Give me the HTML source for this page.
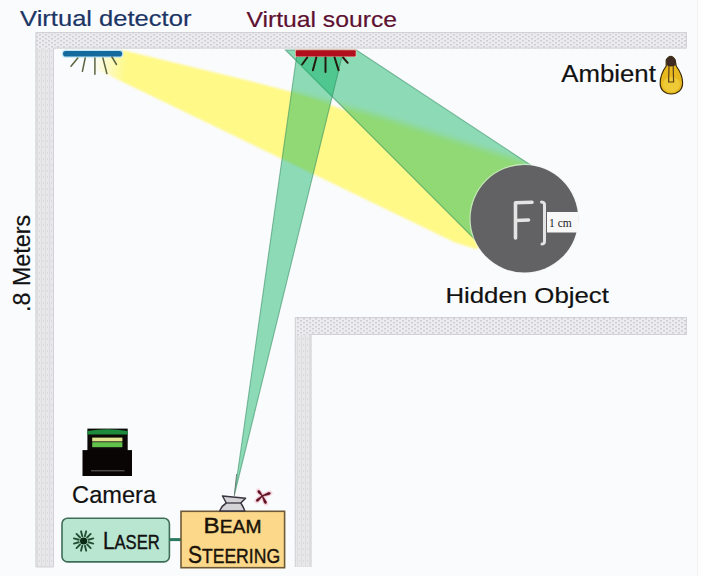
<!DOCTYPE html>
<html><head><meta charset="utf-8">
<style>
html,body{margin:0;padding:0;background:#fafbfd;}
body{width:702px;height:576px;overflow:hidden;}
svg{display:block;}
text{font-family:"Liberation Sans",sans-serif;}
</style></head>
<body>
<svg width="702" height="576" viewBox="0 0 702 576">
<defs>
  <pattern id="wall" width="6" height="4" patternUnits="userSpaceOnUse">
    <rect width="6" height="4" fill="#ececee"/>
    <rect x="0" y="0" width="2" height="1.5" fill="#cfcfd3"/>
    <rect x="3" y="2" width="2" height="1.5" fill="#cfcfd3"/>
  </pattern>
  <pattern id="vwall" width="4" height="6" patternUnits="userSpaceOnUse">
    <rect width="4" height="6" fill="#e8e8ea"/>
    <rect x="1" y="0" width="1" height="6" fill="#dcdcdf"/>
    <rect x="3" y="2" width="1" height="2" fill="#d9d9dc"/>
  </pattern>
  <linearGradient id="yfade" gradientUnits="userSpaceOnUse" x1="92" y1="62" x2="126" y2="66">
    <stop offset="0" stop-color="#fff988" stop-opacity="0"/>
    <stop offset="1" stop-color="#fff988" stop-opacity="1"/>
  </linearGradient>
  <filter id="soft3" x="-10%" y="-30%" width="120%" height="160%"><feGaussianBlur stdDeviation="3"/></filter>
  <filter id="soft" x="-5%" y="-5%" width="110%" height="110%">
    <feGaussianBlur stdDeviation="1.2"/>
  </filter>
  <clipPath id="wideclip"><polygon points="285.5,50 356,49.7 551,178.5 524.4,218.8 489.4,253.9"/><polygon points="234.5,494.5 297.5,50 343.6,50"/></clipPath>
</defs>
<rect width="702" height="576" fill="#fafbfd"/>
<rect x="698" y="0" width="4" height="576" fill="#fdfdfe"/>
<line x1="697.5" y1="0" x2="697.5" y2="576" stroke="#f0f2f4" stroke-width="1"/>

<!-- walls -->
<rect x="35.5" y="32" width="651.5" height="16.5" fill="url(#wall)"/>
<rect x="35.5" y="48.5" width="18.5" height="518.5" fill="url(#vwall)"/>
<rect x="35.5" y="32" width="18.5" height="16.5" fill="url(#wall)"/>
<path d="M36,567 L36,32.5 L686.5,32.5 L686.5,48 L53.5,48 L53.5,567 Z" fill="none" stroke="#d2d2d6" stroke-width="1"/>
<rect x="295" y="317" width="392" height="18" fill="url(#wall)"/>
<rect x="294.8" y="335" width="16.6" height="232" fill="url(#vwall)"/>
<path d="M295.3,567 L295.3,317.5 L686.5,317.5 L686.5,334.5 L311,334.5 L311,567" fill="none" stroke="#d2d2d6" stroke-width="1"/>

<!-- yellow beam -->
<polygon filter="url(#soft)" points="123,50.3 250,81 290,91.5 528,172 524.4,218.8 476,249 455,242.5 71,57" fill="url(#yfade)"/>
<g clip-path="url(#wideclip)"><polygon filter="url(#soft3)" points="275,87.5 380,116 528,163 526,190 275,99" fill="#fff988"/></g>

<!-- green wide beam -->
<polygon points="285.5,50 356,49.7 551,178.5 524.4,218.8 489.4,253.9" fill="rgb(0,174,91)" fill-opacity="0.434" stroke="#2f8a5e" stroke-opacity="0.55" stroke-width="1.1"/>
<!-- narrow beam -->
<polygon points="234.5,494.5 297.5,50 343.6,50" fill="rgb(0,174,91)" fill-opacity="0.434" stroke="#2f8a5e" stroke-opacity="0.55" stroke-width="1.1"/>

<line x1="236.6" y1="474" x2="234.3" y2="496" stroke="#5a6a64" stroke-width="1" opacity="0.8"/>

<!-- hidden object -->
<circle cx="524.4" cy="218.8" r="55" fill="#f2f6ee" fill-opacity="0.55"/>
<circle cx="524.4" cy="218.8" r="53.8" fill="#626264"/>
<g stroke="#e4e4e4" stroke-width="3.6" fill="none" stroke-linecap="round" stroke-linejoin="round">
  <path d="M515.5,238 L515.5,202.8 L532,202.3"/>
  <path d="M516,220.5 L528.5,220"/>
</g>
<path d="M541.5,202 Q545,202 544.5,206 L544.5,240 Q545,244 542,244" stroke="#e4e4e4" stroke-width="3" fill="none" stroke-linecap="round"/>
<rect x="547" y="212" width="31.5" height="20.5" fill="#f8f8f8"/>
<text x="549" y="227" font-size="11.5" fill="#222" style="font-family:'Liberation Serif',serif">1 cm</text>

<!-- detector -->
<rect x="61.8" y="49.8" width="61.6" height="8" rx="3.8" fill="#c4e6f4"/>
<rect x="63" y="51" width="59.2" height="5.6" rx="2.8" fill="#146a9c"/>
<g stroke="#5a6440" stroke-width="1.5" stroke-linecap="round">
  <line x1="77.8" y1="58" x2="71" y2="66.2"/>
  <line x1="85.2" y1="58" x2="82.4" y2="71.3"/>
  <line x1="94.9" y1="58" x2="94.9" y2="74.2"/>
  <line x1="102.9" y1="58" x2="106.9" y2="73.6"/>
  <line x1="112" y1="57" x2="116.5" y2="64.5"/>
</g>

<!-- source -->
<rect x="295" y="49" width="61.5" height="8" fill="#f6c3b4" fill-opacity="0.8"/>
<rect x="295.8" y="50.3" width="59.9" height="6.2" rx="1" fill="#b20f1e"/>
<g stroke="#241a0c" stroke-width="2" stroke-linecap="round">
  <line x1="307.2" y1="57.5" x2="302.1" y2="64.5"/>
  <line x1="316.3" y1="57.5" x2="312.9" y2="70.2"/>
  <line x1="325.5" y1="57.5" x2="325.5" y2="71.9"/>
  <line x1="334.6" y1="57.5" x2="338.6" y2="70.2"/>
  <line x1="343.1" y1="57.5" x2="347.7" y2="62.8"/>
</g>

<!-- labels -->
<text transform="translate(20.1,26.3) scale(1.167,1)" font-size="21.9" fill="#1b3565" stroke="#1b3565" stroke-width="0.2">Virtual detector</text>
<text transform="translate(246.4,27.0) scale(1.104,1)" font-size="22.4" fill="#5e1030" stroke="#5e1030" stroke-width="0.2">Virtual source</text>
<text transform="translate(561.3,81.8) scale(1.084,1)" font-size="23.8" fill="#111" stroke="#111" stroke-width="0.2">Ambient</text>
<text transform="translate(445.4,302.8) scale(1.132,1)" font-size="22.8" fill="#111" stroke="#111" stroke-width="0.2">Hidden Object</text>
<text transform="translate(72.1,502.8) scale(0.992,1)" font-size="23.8" fill="#111" stroke="#111" stroke-width="0.2">Camera</text>
<text transform="translate(30,312) rotate(-90)" font-size="23.3" fill="#111" stroke="#111" stroke-width="0.2">.8 Meters</text>

<!-- bulb -->
<g>
  <path d="M666.2,60 Q670.7,52.5 675.2,60 L676.2,66 C679.5,70.5 682.6,76 682.6,83 C682.6,90 677.5,94 671.3,94 C665,94 660,90 660.2,83 C660.2,76 663,70.5 666.2,66 Z" fill="#e8b91f" stroke="#3a2a08" stroke-width="1.2"/>
  <ellipse cx="671.3" cy="84.5" rx="8.5" ry="7.5" fill="#f2d040" opacity="0.75"/>
  <path d="M666.2,60 Q670.7,52.5 675.2,60 L675.9,65 Q670.7,68 666.5,65 Z" fill="#3e2c22"/>
  <path d="M669,66 L668.6,82 L673.6,82 L673.2,66" stroke="#5a4018" stroke-width="1.2" fill="none"/>
</g>

<!-- camera -->
<rect x="87.4" y="428.6" width="40.3" height="22.5" fill="#0c0808"/>
<path d="M87.4,434.5 L87.4,431 Q107.5,427.5 127.7,431 L127.7,434.5 Z" fill="#1d8a3c"/>
<rect x="92.2" y="437.6" width="30.2" height="3.8" fill="#dfe58e"/>
<rect x="92.2" y="442.2" width="30.2" height="5" fill="#62c24c"/>
<rect x="82.5" y="450.1" width="49.5" height="25.9" fill="#0a0505"/>
<line x1="91" y1="470.8" x2="124.5" y2="470.8" stroke="#6a6a6a" stroke-width="1"/>

<!-- laser box -->
<rect x="62" y="518.3" width="107.4" height="43.6" rx="5.5" fill="#b9e6d1" stroke="#3e6e58" stroke-width="1.6"/>
<line x1="169.4" y1="539.6" x2="181" y2="539.6" stroke="#2a7a60" stroke-width="3"/>
<g stroke="#234f34" stroke-width="1.9" stroke-linecap="round" transform="translate(83.6,541)"><line x1="4.83" y1="1.29" x2="9.66" y2="2.59"/><line x1="3.54" y1="3.54" x2="7.07" y2="7.07"/><line x1="1.29" y1="4.83" x2="2.59" y2="9.66"/><line x1="-1.29" y1="4.83" x2="-2.59" y2="9.66"/><line x1="-3.54" y1="3.54" x2="-7.07" y2="7.07"/><line x1="-4.83" y1="1.29" x2="-9.66" y2="2.59"/><line x1="-4.83" y1="-1.29" x2="-9.66" y2="-2.59"/><line x1="-3.54" y1="-3.54" x2="-7.07" y2="-7.07"/><line x1="-1.29" y1="-4.83" x2="-2.59" y2="-9.66"/><line x1="1.29" y1="-4.83" x2="2.59" y2="-9.66"/><line x1="3.54" y1="-3.54" x2="7.07" y2="-7.07"/><line x1="4.83" y1="-1.29" x2="9.66" y2="-2.59"/></g>
<circle cx="83.6" cy="541" r="3.6" fill="#0a2a14"/>
<text transform="translate(103,549.3) scale(0.85,1)" font-size="24.5" fill="#111" stroke="#111" stroke-width="0.4">L<tspan font-size="19.5">ASER</tspan></text>

<!-- beam steering -->
<rect x="181" y="511.3" width="103.6" height="56.4" fill="#fbd88a" stroke="#6e5a36" stroke-width="1.6"/>
<text transform="translate(203.6,532.9) scale(1.1,1)" font-size="22" fill="#1a1208" stroke="#1a1208" stroke-width="0.4">B<tspan font-size="17.5">EAM</tspan></text>
<text transform="translate(187.9,563.2) scale(0.858,1)" font-size="24.5" fill="#1a1208" stroke="#1a1208" stroke-width="0.4">S<tspan font-size="20.5">TEERING</tspan></text>

<!-- mirror mount -->
<path d="M222.5,496 L245.6,498.3 L240.8,503 Q243.5,507 244.8,511 L219.8,511 Q221.5,506 226.3,503 Z" fill="#d4d4d6" stroke="#3a3440" stroke-width="1.5" stroke-linejoin="round"/>
<line x1="226.3" y1="503" x2="240.8" y2="503" stroke="#3a3440" stroke-width="1.3"/>

<!-- red x -->
<g stroke="#f0b0c0" stroke-width="5" stroke-linecap="round" opacity="0.45"><line x1="262.30" y1="495.90" x2="258.30" y2="491.00"/><line x1="262.30" y1="495.90" x2="270.00" y2="493.10"/><line x1="262.30" y1="495.90" x2="256.80" y2="500.90"/><line x1="262.30" y1="495.90" x2="265.80" y2="503.20"/></g>
<g fill="#5e0e20" stroke="#5e0e20" stroke-width="0.5" stroke-linejoin="round"><polygon points="262.57,495.68 259.77,490.83 257.92,490.54 257.84,492.41 262.03,496.12"/><polygon points="262.42,496.23 269.68,494.55 270.56,492.89 268.82,492.20 262.18,495.57"/><polygon points="262.06,495.64 256.55,499.44 256.36,501.30 258.23,501.29 262.54,496.16"/><polygon points="261.98,496.05 264.33,503.02 266.06,503.74 266.58,501.94 262.62,495.75"/></g>
</svg>
</body></html>
